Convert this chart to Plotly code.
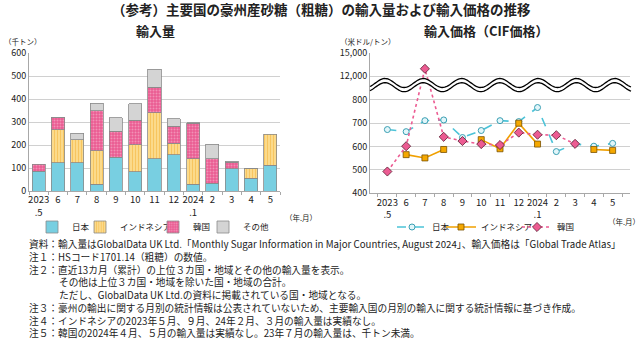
import numpy as np
import plotly.graph_objects as go

FONT = "Noto Sans CJK JP, Noto Sans, sans-serif"

months = ["2023<br>.5", "6", "7", "8", "9", "10", "11", "12", "2024<br>.1", "2", "3", "4", "5"]

# Import volume (thousand tonnes)
vol_japan = [85, 122, 122, 29, 147, 84, 140, 157, 29, 34, 96, 56, 112]
vol_indonesia = [None, 144, 100, 147, None, 117, 200, 50, 111, None, None, 43, 134]
vol_korea = [32, 52, 0.5, 174, 113, 106, 111, 75, 154, 106, 30, None, None]
vol_other = [None, 2, 28, 31, 58, 73, 79, 33, 2, 64, 3, 1, None]

# Import price (USD/tonne, CIF)
price_japan = [672, 663, 710, 713, 638, 668, 710, 706, 766, 578, 611, 601, 613]
price_indonesia = [None, 565, 551, 587, None, 629, 590, 699, 610, None, None, 587, 583]
price_korea = [493, 601, 12940, 641, 623, 610, 606, 659, 650, 648, 611, None, None]

price_tickvals = [400, 500, 600, 700, 800, 900, 1000]
price_ticktext = ["400", "500", "600", "700", "800", "12,000", "15,000"]


def brk(v):
    """Map values on the broken axis (800 | 12,000-15,000)."""
    if v is None:
        return None
    if v <= 800:
        return v
    return 900 + (v - 12000) / 30.0


W, H = 640, 339

fig = go.Figure()

edge = "#8a8a8a"
fig.add_trace(go.Bar(x=months, y=vol_japan, name="日本", xaxis="x", yaxis="y",
                     marker=dict(color="#78cfe1", line=dict(color=edge, width=0.8)),
                     legend="legend"))
fig.add_trace(go.Bar(x=months, y=vol_indonesia, name="インドネシア", xaxis="x", yaxis="y",
                     marker=dict(color="#fde3a0", line=dict(color=edge, width=0.8),
                                 pattern=dict(shape="|", fgcolor="#f2a81d", size=3, solidity=0.55)),
                     legend="legend2"))
fig.add_trace(go.Bar(x=months, y=vol_korea, name="韓国", xaxis="x", yaxis="y",
                     marker=dict(color="#ea5c92", line=dict(color=edge, width=0.8),
                                 pattern=dict(shape=".", fgcolor="#f9c6da", size=3, solidity=0.35)),
                     legend="legend3"))
fig.add_trace(go.Bar(x=months, y=vol_other, name="その他", xaxis="x", yaxis="y",
                     marker=dict(color="#d4d4d4", line=dict(color=edge, width=0.8)),
                     legend="legend4"))

fig.add_trace(go.Scatter(x=months, y=[brk(v) for v in price_japan], name="日本",
                         xaxis="x2", yaxis="y2", mode="lines+markers",
                         line=dict(color="#4cc3d8", width=1.6, dash="dash"),
                         marker=dict(symbol="circle", size=6, color="#e2f6fa",
                                     line=dict(color="#3a9fb3", width=1)),
                         legend="legend5"))
fig.add_trace(go.Scatter(x=months, y=[brk(v) for v in price_indonesia], name="インドネシア",
                         xaxis="x2", yaxis="y2", mode="lines+markers", connectgaps=False,
                         line=dict(color="#f0a000", width=1.6),
                         marker=dict(symbol="square", size=6, color="#f5a800",
                                     line=dict(color="#7a5200", width=0.8)),
                         legend="legend6"))
fig.add_trace(go.Scatter(x=months, y=[brk(v) for v in price_korea], name="韓国",
                         xaxis="x2", yaxis="y2", mode="lines+markers",
                         line=dict(color="#ec5b92", width=1.6, dash="dot"),
                         marker=dict(symbol="diamond", size=7, color="#ec5b92",
                                     line=dict(color="#5a1a30", width=0.8)),
                         legend="legend7"))

# Wave break mark (decoration) in pixel space -> paper
x0p, x1p = 370, 631
xs = np.linspace(x0p, x1p, 200)
amp = 4.5
per = 38.3
phase = 385
yc1, yc2 = 83.0, 87.2
yu = yc1 - amp * np.cos(2 * np.pi * (xs - phase) / per)
yl = yc2 - amp * np.cos(2 * np.pi * (xs - phase) / per)


def px(x):
    return x / W


def py(y):
    return 1 - y / H


def path(xa, ya):
    return "M " + " L ".join(f"{px(a):.5f},{py(b):.5f}" for a, b in zip(xa, ya))


fill_path = path(np.concatenate([xs, xs[::-1]]), np.concatenate([yu - 0.6, (yl + 0.6)[::-1]])) + " Z"
shapes = [
    dict(type="path", path=fill_path, xref="paper", yref="paper", fillcolor="white",
         line=dict(width=0), layer="above"),
    dict(type="path", path=path(xs, yu), xref="paper", yref="paper",
         line=dict(color="black", width=1.3), layer="above"),
    dict(type="path", path=path(xs, yl), xref="paper", yref="paper",
         line=dict(color="black", width=1.3), layer="above"),
]

tickfont = dict(family=FONT, size=9.5, color="#222")
grid = "#d0d0d0"
axline = "#a8a8a8"


def leg(xpix):
    return dict(orientation="h", x=xpix / W, y=1 - 227 / H, xanchor="left", yanchor="middle",
                font=dict(family=FONT, size=8.5, color="#222"), itemwidth=30,
                bgcolor="rgba(0,0,0,0)", borderwidth=0)


fig.update_layout(
    width=W, height=H,
    margin=dict(l=0, r=0, t=0, b=0, autoexpand=False),
    paper_bgcolor="white", plot_bgcolor="white",
    barmode="stack", bargap=0.32,
    font=dict(family=FONT, color="#222"),
    showlegend=True,
    shapes=shapes,
    xaxis=dict(domain=[29 / W, 280 / W], anchor="y", type="category", automargin=False,
               showline=True, linecolor=axline, linewidth=1, tickangle=0,
               ticks="outside", tickson="boundaries", ticklen=3, tickcolor=axline,
               tickfont=tickfont, showgrid=False),
    yaxis=dict(domain=[1 - 191 / H, 1 - 53 / H], anchor="x", range=[0, 600], automargin=False,
               tickvals=[0, 100, 200, 300, 400, 500, 600],
               showline=True, linecolor=axline, linewidth=1,
               gridcolor=grid, gridwidth=1, zeroline=False,
               tickfont=dict(family=FONT, size=9, color="#222"), ticks=""),
    xaxis2=dict(domain=[370 / W, 630 / W], anchor="y2", type="category", automargin=False,
                showline=True, linecolor=axline, linewidth=1, tickangle=0,
                ticks="outside", tickson="boundaries", ticklen=3, tickcolor=axline,
                tickfont=tickfont, showgrid=False),
    yaxis2=dict(domain=[1 - 193.3 / H, 1 - 52.7 / H], anchor="x2", range=[400, 1000], automargin=False,
                tickvals=price_tickvals, ticktext=price_ticktext,
                showline=True, linecolor=axline, linewidth=1,
                gridcolor=grid, gridwidth=1, zeroline=False,
                tickfont=dict(family=FONT, size=9, color="#222"), ticks=""),
    legend=leg(32), legend2=leg(80), legend3=leg(153), legend4=leg(203),
    legend5=leg(392), legend6=leg(441), legend7=leg(517),
)

ann = []


def text(x, y, s, size=11, bold=False, xanchor="left"):
    if bold:
        s = f"<b>{s}</b>"
    ann.append(dict(x=x / W, y=1 - y / H, xref="paper", yref="paper", text=s, showarrow=False,
                    xanchor=xanchor, yanchor="middle",
                    font=dict(family=FONT, size=size, color="#222")))


text(321, 9, "（参考）主要国の豪州産砂糖（粗糖）の輸入量および輸入価格の推移", size=13.5, bold=True, xanchor="center")
text(155, 30, "輸入量", size=13, bold=True, xanchor="center")
text(486, 30, "輸入価格（CIF価格）", size=13, bold=True, xanchor="center")
text(2, 42, "（千トン）", size=7.5)
text(338, 42, "（米ドル/トン）", size=7.5)
text(283, 217, "（年.月）", size=7.5)
text(606, 221, "（年.月）", size=7.5)

notes = [
    (27, 244, "資料：輸入量はGlobalData UK Ltd.「Monthly Sugar Information in Major Countries, August 2024」、輸入価格は「Global Trade Atlas」"),
    (27, 256.7, "注１：HSコード1701.14（粗糖）の数値。"),
    (27, 269.5, "注２：直近13カ月（累計）の上位３カ国・地域とその他の輸入量を表示。"),
    (57, 282.3, "その他は上位３カ国・地域を除いた国・地域の合計。"),
    (57, 295, "ただし、GlobalData UK Ltd.の資料に掲載されている国・地域となる。"),
    (27, 307.8, "注３：豪州の輸出に関する月別の統計情報は公表されていないため、主要輸入国の月別の輸入に関する統計情報に基づき作成。"),
    (27, 320.7, "注４：インドネシアの2023年５月、９月、24年２月、３月の輸入量は実績なし。"),
    (27, 333.3, "注５：韓国の2024年４月、５月の輸入量は実績なし。23年７月の輸入量は、千トン未満。"),
]
for x, y, s in notes:
    text(x, y, s, size=9.7)

fig.update_layout(annotations=ann)

fig.write_html("out.html")
